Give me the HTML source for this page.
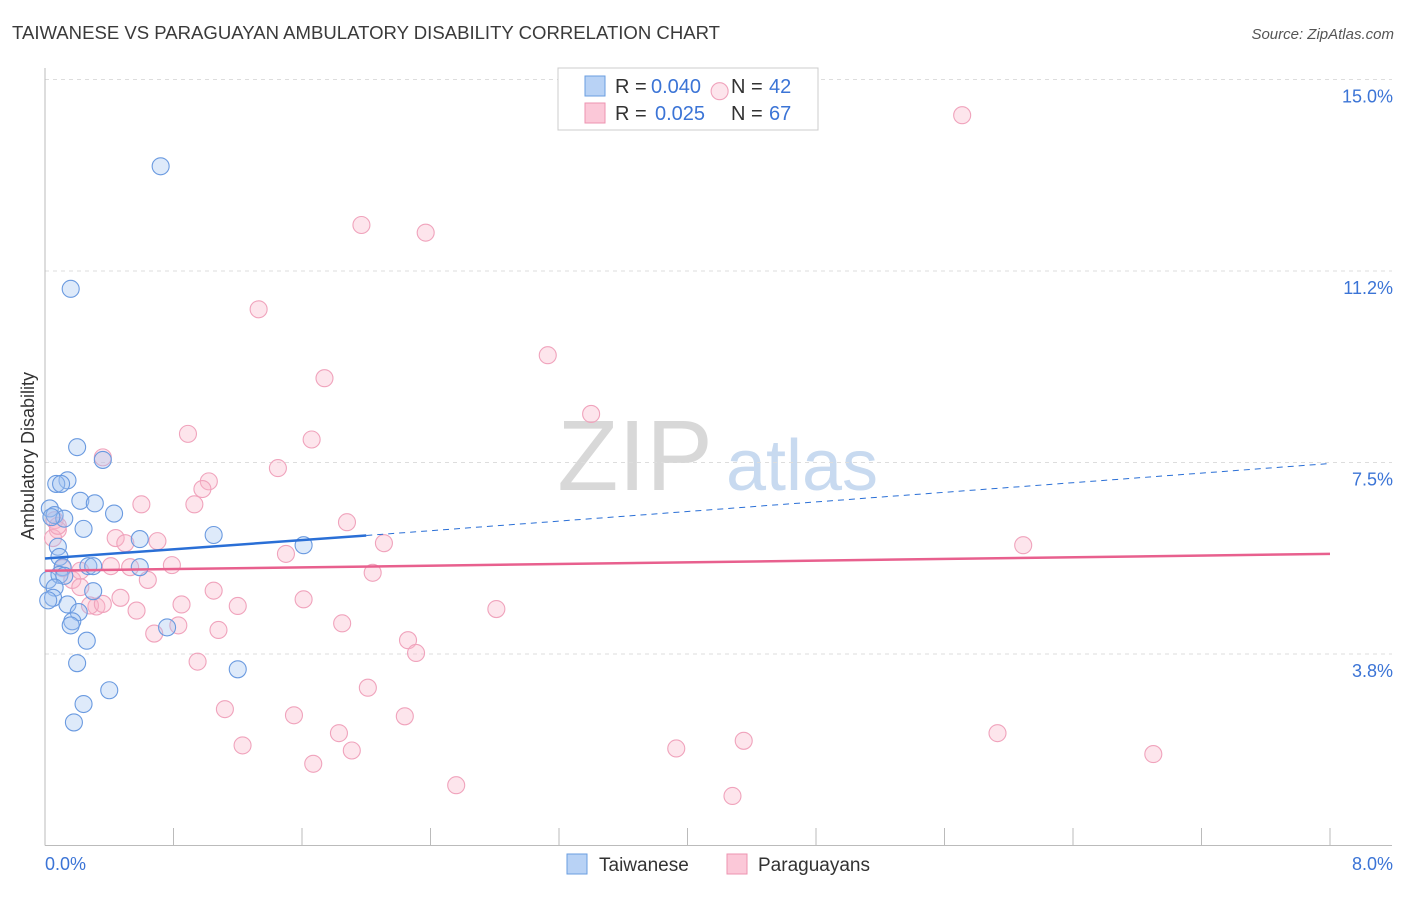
<!DOCTYPE html>
<html><head><meta charset="utf-8"><style>
body{margin:0;background:#fff;font-family:"Liberation Sans",sans-serif;}
svg text{font-family:"Liberation Sans",sans-serif;}
</style></head><body>
<svg id="chart" width="1406" height="892" xmlns="http://www.w3.org/2000/svg">
<text x="12" y="39" font-size="18" fill="#3a3a3a" textLength="708" lengthAdjust="spacingAndGlyphs">TAIWANESE VS PARAGUAYAN AMBULATORY DISABILITY CORRELATION CHART</text>
<text x="1394" y="39" font-size="15" fill="#555" text-anchor="end" font-style="italic">Source: ZipAtlas.com</text>
<g>
<text x="635" y="490" font-size="100" fill="#d8d8d8" text-anchor="middle" font-family="Liberation Serif,serif">ZIP</text>
<text x="802" y="490" font-size="72" fill="#c8daf0" text-anchor="middle">atlas</text>
</g>
<g id="grid"></g>
<g id="axes"></g>
<g>
<rect x="558" y="68" width="260" height="62" fill="#fff" stroke="#ccc"/>
<rect x="585" y="76" width="20" height="20" fill="#b8d2f5" stroke="#6a9ee0"/>
<rect x="585" y="103" width="20" height="20" fill="#fbc8d8" stroke="#ee93b0"/>
<text x="615" y="93" font-size="20" fill="#333">R =</text>
<text x="651" y="93" font-size="20" fill="#3b74d6">0.040</text>
<text x="731" y="93" font-size="20" fill="#333">N =</text>
<text x="769" y="93" font-size="20" fill="#3b74d6">42</text>
<text x="615" y="120" font-size="20" fill="#333">R =</text>
<text x="655" y="120" font-size="20" fill="#3b74d6">0.025</text>
<text x="731" y="120" font-size="20" fill="#333">N =</text>
<text x="769" y="120" font-size="20" fill="#3b74d6">67</text>
</g>
<g id="marks"></g>
<g>
<rect x="567" y="854" width="20" height="20" fill="#b8d2f5" stroke="#6a9ee0"/>
<text x="599" y="871" font-size="19" fill="#333">Taiwanese</text>
<rect x="727" y="854" width="20" height="20" fill="#fbc8d8" stroke="#ee93b0"/>
<text x="758" y="871" font-size="19" fill="#333">Paraguayans</text>
</g>
<text transform="translate(34,456) rotate(-90)" font-size="18" fill="#333" text-anchor="middle">Ambulatory Disability</text>
</svg>
<script>
const xTicks=[0,0.8,1.6,2.4,3.2,4.0,4.8,5.6,6.4,7.2,8.0];
const yTicks=[3.75,7.5,11.25,15.0];
const yTickLabels=["3.8%","7.5%","11.2%","15.0%"];
const xTickLabels=["0.0%","8.0%"];
const blueX=[0.72,0.16,0.20,0.36,0.14,0.07,0.10,0.22,0.31,0.43,0.03,0.06,0.12,0.24,1.05,0.59,1.61,0.08,0.09,0.11,0.27,0.30,0.59,0.02,0.09,0.12,0.06,0.30,0.05,0.02,0.14,0.21,0.17,0.16,0.26,0.76,0.20,1.20,0.40,0.24,0.18,0.04];
const blueY=[13.3,10.9,7.8,7.55,7.15,7.08,7.08,6.75,6.7,6.5,6.6,6.47,6.4,6.2,6.08,6.0,5.88,5.85,5.65,5.45,5.47,5.47,5.45,5.2,5.3,5.28,5.05,4.98,4.85,4.8,4.72,4.57,4.39,4.31,4.01,4.27,3.57,3.45,3.04,2.77,2.41,6.43];
const pinkX=[5.71,4.20,1.97,2.37,1.33,3.13,1.74,3.40,0.89,1.66,0.36,1.45,1.02,0.98,0.60,0.93,1.88,0.06,0.08,0.05,0.44,0.50,0.70,2.11,6.09,1.50,0.79,0.41,0.53,0.11,2.04,0.17,0.64,0.22,1.05,0.47,1.61,0.85,1.20,2.81,0.32,0.28,0.57,1.85,0.68,0.83,1.08,2.26,2.31,0.95,2.01,1.12,1.55,2.24,1.83,5.93,1.23,4.35,1.91,3.93,6.90,1.67,2.56,4.28,0.08,0.36,0.22];
const pinkY=[14.3,14.77,12.15,12.0,10.5,9.6,9.15,8.45,8.06,7.95,7.6,7.39,7.13,6.98,6.68,6.68,6.33,6.37,6.18,6.02,6.02,5.92,5.96,5.92,5.88,5.71,5.49,5.47,5.45,5.43,5.34,5.2,5.2,5.06,4.99,4.85,4.82,4.72,4.69,4.63,4.68,4.70,4.6,4.35,4.15,4.31,4.22,4.02,3.77,3.6,3.09,2.67,2.55,2.53,2.2,2.2,1.96,2.05,1.86,1.9,1.79,1.6,1.18,0.97,6.26,4.73,5.38];
const blueLine=[[0,5.62],[2.0,6.07],[8.0,7.48]];
const pinkLine=[[0,5.38],[8.0,5.71]];
const X0=45,X1=1330,Y0=845.5,PXPERY=51.07;
const sx=v=>X0+(X1-X0)*v/8;
const sy=v=>Y0-v*PXPERY;
const NS="http://www.w3.org/2000/svg";
function mk(tag,attrs,parent){const e=document.createElementNS(NS,tag);for(const k in attrs)e.setAttribute(k,attrs[k]);parent.appendChild(e);return e;}
const grid=document.getElementById('grid'),axes=document.getElementById('axes'),marks=document.getElementById('marks');
yTicks.forEach((t,i)=>{
 const l=mk('line',{x1:X0,x2:1392,y1:sy(t),y2:sy(t),stroke:'#ddd','stroke-dasharray':'4,4'},grid);
 
 
 const tx=mk('text',{x:1393,y:sy(t)+23,'font-size':18,fill:'#3b74d6','text-anchor':'end'},axes);
 tx.textContent=yTickLabels[i];
 
 
});
const la=mk('line',{x1:X0,x2:X0,y1:68,y2:Y0,stroke:'#bbb'},axes);


const ba=mk('line',{x1:X0,x2:1392,y1:Y0,y2:Y0,stroke:'#bbb'},axes);


xTicks.forEach(t=>{
 const l=mk('line',{x1:sx(t),x2:sx(t),y1:828,y2:Y0,stroke:'#bbb'},axes);
 
 
});
const xl0=mk('text',{x:45,y:870,'font-size':18,fill:'#3b74d6'},axes);xl0.textContent=xTickLabels[0];


const xl1=mk('text',{x:1393,y:870,'font-size':18,fill:'#3b74d6','text-anchor':'end'},axes);xl1.textContent=xTickLabels[1];


pinkX.forEach((x,i)=>{
 const c=mk('circle',{cx:sx(x),cy:sy(pinkY[i]),r:8.5,fill:'rgba(248,180,200,0.35)',stroke:'#f0a3bc','stroke-width':1.1},marks);
 
 
});
blueX.forEach((x,i)=>{
 const c=mk('circle',{cx:sx(x),cy:sy(blueY[i]),r:8.5,fill:'rgba(160,195,240,0.35)',stroke:'#6a9ae0','stroke-width':1.1},marks);
 
 
});
const bl=mk('line',{x1:sx(blueLine[0][0]),y1:sy(blueLine[0][1]),x2:sx(blueLine[1][0]),y2:sy(blueLine[1][1]),stroke:'#2a6fd6','stroke-width':2.5},marks);


const bd=mk('line',{x1:sx(blueLine[1][0]),y1:sy(blueLine[1][1]),x2:sx(blueLine[2][0]),y2:sy(blueLine[2][1]),stroke:'#2a6fd6','stroke-width':1,'stroke-dasharray':'6,5'},marks);


const pl=mk('line',{x1:sx(pinkLine[0][0]),y1:sy(pinkLine[0][1]),x2:sx(pinkLine[1][0]),y2:sy(pinkLine[1][1]),stroke:'#e8608e','stroke-width':2.5},marks);


</script>
</body></html>
